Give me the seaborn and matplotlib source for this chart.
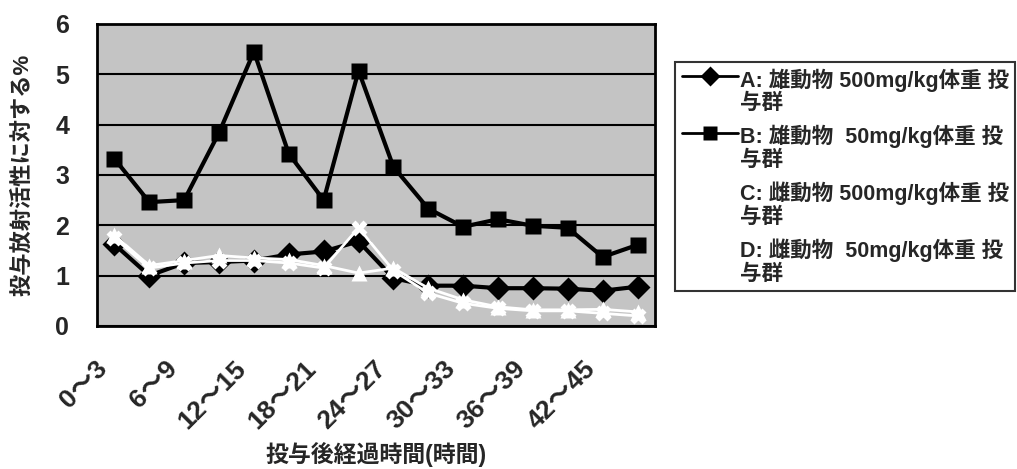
import numpy as np
import pandas as pd
import matplotlib
matplotlib.use("Agg")
import matplotlib.pyplot as plt
import matplotlib.transforms as mtrans
import seaborn as sns

# time bins (hours after dosing)
time_bins = ["0～3", "3～6", "6～9", "9～12", "12～15", "15～18", "18～21", "21～24",
             "24～27", "27～30", "30～33", "33～36", "36～39", "39～42", "42～45", "45～48"]

# % of administered radioactivity
series_a = [1.62, 1.0, 1.25, 1.27, 1.3, 1.42, 1.48, 1.68, 0.95, 0.8, 0.8, 0.75, 0.75, 0.74, 0.7, 0.78]
series_b = [3.32, 2.46, 2.5, 3.84, 5.45, 3.42, 2.5, 5.07, 3.16, 2.33, 1.97, 2.12, 1.99, 1.95, 1.37, 1.61]
series_c = [1.8, 1.2, 1.3, 1.4, 1.35, 1.32, 1.2, 1.05, 1.15, 0.75, 0.52, 0.38, 0.32, 0.32, 0.33, 0.28]
series_d = [1.75, 1.15, 1.25, 1.3, 1.3, 1.25, 1.15, 1.95, 1.1, 0.65, 0.45, 0.35, 0.3, 0.3, 0.25, 0.2]

labels = ["A: 雄動物 500mg/kg体重 投\n与群",
          "B: 雄動物  50mg/kg体重 投\n与群",
          "C: 雌動物 500mg/kg体重 投\n与群",
          "D: 雌動物  50mg/kg体重 投\n与群"]

rows = []
for lab, vals in zip(labels, [series_a, series_b, series_c, series_d]):
    for i, v in enumerate(vals):
        rows.append({"t": i, "pct": v, "group": lab})
df = pd.DataFrame(rows)

sns.set_style("white")
plt.rcParams["font.family"] = ["Liberation Sans", "Noto Sans CJK JP", "DejaVu Sans"]
plt.rcParams["font.weight"] = "bold"

fig, ax = plt.subplots(figsize=(10.17, 4.69), dpi=100)
fig.subplots_adjust(left=0.0954, right=0.644, bottom=0.305, top=0.949)
ax.set_facecolor("#c4c4c4")

palette = {labels[0]: "black", labels[1]: "black", labels[2]: "white", labels[3]: "white"}
markers = {labels[0]: "D", labels[1]: "s", labels[2]: "^", labels[3]: "X"}
sizes = {labels[0]: 3, labels[1]: 3, labels[2]: 2, labels[3]: 2}

sns.lineplot(data=df, x="t", y="pct", hue="group", style="group", size="group",
             palette=palette, markers=markers, dashes=False, sizes=sizes,
             markersize=12, markeredgecolor="none", ax=ax, legend=True, zorder=3)

ax.set_xlim(-0.5, len(time_bins) - 0.5)
ax.set_ylim(0, 6)
ax.set_yticks(range(0, 7))
ax.set_yticklabels([str(v) for v in range(0, 7)], fontsize=18, fontweight="bold")
ax.tick_params(axis="y", length=0, pad=20)

ax.set_xticks(range(0, len(time_bins), 2))
ax.set_xticklabels(time_bins[::2], rotation=45, ha="right", va="center",
                   rotation_mode="anchor", fontsize=19, fontweight="bold")
ax.set_xticks(np.arange(0.5, len(time_bins) - 0.5, 1), minor=True)
ax.tick_params(axis="x", which="major", length=0, pad=28)
ax.tick_params(axis="x", which="minor", direction="in", length=5, width=2, color="black")
shift = mtrans.ScaledTranslation(-8 / 72, 0, fig.dpi_scale_trans)
for t in ax.get_xticklabels():
    t.set_transform(t.get_transform() + shift)

ax.grid(axis="y", color="black", linewidth=1.5)
ax.set_axisbelow(True)
for s in ax.spines.values():
    s.set_color("black")
    s.set_linewidth(2)

ax.set_xlabel("投与後経過時間(時間)", fontsize=16.5, fontweight="bold")
ax.xaxis.set_label_coords(0.5, -0.427)
ax.xaxis.label.set_va("center")
ax.set_ylabel("投与放射活性に対する%", fontsize=16, fontweight="bold")
ax.yaxis.set_label_coords(-0.133, 0.5)
ax.yaxis.label.set_va("center")

handles, labs = ax.get_legend_handles_labels()
leg = ax.legend(handles, labs, loc="upper left", bbox_to_anchor=(0.664, 0.868),
                bbox_transform=fig.transFigure, frameon=True, fancybox=False,
                edgecolor="black", prop={"weight": "bold", "size": 15.5},
                handlelength=2.6, handletextpad=0.1, borderpad=0.3,
                labelspacing=0.5, borderaxespad=0)
leg.get_frame().set_linewidth(1.5)
for h in leg.get_lines():
    h.set_linewidth(2)
    h.set_markersize(10)
for txt in leg.get_texts():
    txt.set_linespacing(1.1)
for col in leg._legend_handle_box.get_children():
    for hp in col.get_children():
        hp.align = "top"

fig.savefig("out.png", dpi=100)
